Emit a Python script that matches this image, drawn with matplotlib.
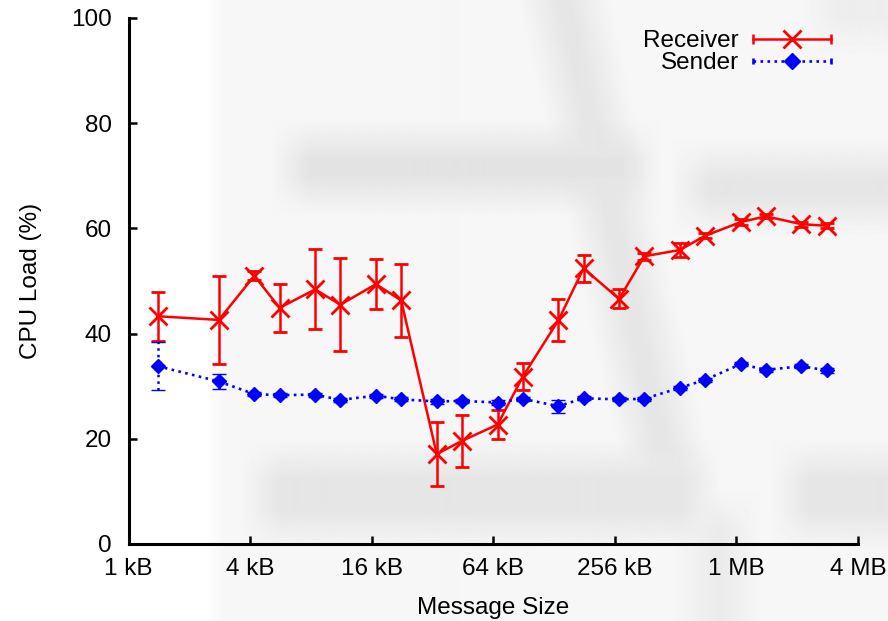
import numpy as np
import matplotlib
matplotlib.use("Agg")
import matplotlib.pyplot as plt
from matplotlib.lines import Line2D
from matplotlib.legend_handler import HandlerBase
from matplotlib.ticker import FixedLocator, FixedFormatter, NullLocator

plt.rcParams["font.family"] = ["Liberation Sans", "DejaVu Sans"]
plt.rcParams["font.size"] = 17.5

# message sizes in kB (multiples of a 1.4 kB segment)
sizes_kb = [1.4, 2.8, 4.2, 5.6, 8.4, 11.2, 16.8, 22.4, 33.6, 44.8, 67.2, 89.6,
            134.4, 179.2, 268.8, 358.4, 537.6, 716.8, 1075.2, 1433.6, 2150.4, 2867.2]

receiver_load = [43.3, 42.6, 51.0, 44.9, 48.4, 45.5, 49.4, 46.3, 17.1, 19.6, 22.7, 31.8,
                 42.5, 52.4, 46.6, 54.7, 55.9, 58.6, 61.2, 62.3, 60.8, 60.5]
receiver_err = [4.7, 8.4, 0.9, 4.6, 7.6, 8.8, 4.8, 7.0, 6.0, 4.9, 2.8, 2.6,
                4.0, 2.5, 1.8, 0.7, 1.4, 0.5, 0.5, 0.4, 0.5, 0.5]

sender_load = [33.8, 30.9, 28.5, 28.3, 28.4, 27.4, 28.2, 27.5, 27.1, 27.2, 26.9, 27.6,
               26.2, 27.7, 27.5, 27.6, 29.7, 31.2, 34.2, 33.1, 33.8, 33.0]
sender_err = [4.6, 1.4, 0.4, 0.4, 0.4, 0.4, 0.4, 0.4, 0.4, 0.4, 0.4, 0.4,
              1.2, 0.4, 0.4, 0.4, 0.4, 0.4, 0.4, 0.4, 0.4, 0.4]

tick_kb = [1, 4, 16, 64, 256, 1024, 4096]
tick_labels = ["1 kB", "4 kB", "16 kB", "64 kB", "256 kB", "1 MB", "4 MB"]
y_ticks = [0, 20, 40, 60, 80, 100]


class ErrHandler(HandlerBase):
    """gnuplot-style key entry: line with end caps and a centred point"""

    def __init__(self, ms, mew, capsize):
        super().__init__()
        self.ms, self.mew, self.capsize = ms, mew, capsize

    def create_artists(self, legend, orig_handle, xdescent, ydescent,
                       width, height, fontsize, trans):
        y = height / 2 - ydescent
        x0, x1 = -xdescent, width - xdescent
        c = orig_handle.get_color()
        lw = orig_handle.get_linewidth()
        line = Line2D([x0, x1], [y, y], color=c, lw=lw, ls=orig_handle.get_linestyle())
        caps = Line2D([x0, x1], [y, y], color=c, ls="none", marker="|",
                      ms=self.capsize, mew=lw)
        mark = Line2D([(x0 + x1) / 2], [y], color=c, ls="none",
                      marker=orig_handle.get_marker(), ms=self.ms, mew=self.mew)
        for a in (line, caps, mark):
            a.set_transform(trans)
        return [line, caps, mark]


def band(xx, yy, x0, x1, y0, y1, soft):
    mx = np.clip((xx - x0) / soft + 0.5, 0, 1) * np.clip((x1 - xx) / soft + 0.5, 0, 1)
    my = np.clip((yy - y0) / soft + 0.5, 0, 1) * np.clip((y1 - yy) / soft + 0.5, 0, 1)
    return mx * my


fig = plt.figure(figsize=(8.88, 6.21), dpi=100)

# faint grey backdrop
H, W = 621, 888
yy, xx = np.mgrid[0:H, 0:W].astype(float)
bg = np.full((H, W), 0.965)
bg = bg + (1.0 - bg) * band(xx, yy, -200, 215, -200, 900, 20)
for x0, x1, y0, y1, lev in [(290, 640, 140, 195, 0.89), (690, 950, 160, 215, 0.90),
                            (260, 700, 460, 530, 0.90), (790, 950, 460, 530, 0.90),
                            (695, 740, 510, 700, 0.92), (820, 950, -50, 35, 0.93)]:
    m = band(xx, yy, x0, x1, y0, y1, 40)
    bg = np.minimum(bg, bg * (1 - m) + lev * m)
slant = band(xx - 0.22 * yy, yy, 538, 588, -100, 470, 40)
bg = np.minimum(bg, bg * (1 - slant) + 0.90 * slant)

bg_ax = fig.add_axes([0, 0, 1, 1], zorder=0)
bg_ax.imshow(bg, cmap="gray", vmin=0, vmax=1, extent=[0, W, H, 0], aspect="auto",
             interpolation="bilinear")
bg_ax.axis("off")

ax = fig.add_axes([128.5 / 888, 1 - 544 / 621, (858 - 128.5) / 888, (544 - 18) / 621], zorder=1)
ax.patch.set_alpha(0)

rx = ax.errorbar(sizes_kb, receiver_load, yerr=receiver_err, color="#ff0000", lw=1.8,
                 marker="x", ms=13, mew=2, capsize=5, capthick=1.8, elinewidth=1.8,
                 label="Receiver", zorder=3)
tx = ax.errorbar(sizes_kb, sender_load, yerr=sender_err, color="#0000ff", lw=1.9, ls=":",
                 marker="D", ms=7.5, mew=1, capsize=5, capthick=1.8, elinewidth=1.8,
                 label="Sender", zorder=3)
for coll in tx[2]:
    coll.set_linestyle(":")

ax.set_xscale("log", base=2)
ax.set_xlim(1, 4096)
ax.set_ylim(0, 100)
ax.xaxis.set_major_locator(FixedLocator(tick_kb))
ax.xaxis.set_major_formatter(FixedFormatter(tick_labels))
ax.xaxis.set_minor_locator(NullLocator())
ax.set_yticks(y_ticks)

for side in ("top", "right"):
    ax.spines[side].set_visible(False)
for side in ("left", "bottom"):
    ax.spines[side].set_linewidth(2.2)
ax.tick_params(direction="in", length=6, width=1.8, pad=10)
ax.tick_params(axis="y", pad=12)

ax.set_xlabel("Message Size", labelpad=12)
ax.set_ylabel("CPU Load (%)", labelpad=21)

leg = ax.legend([rx[0], tx[0]], ["Receiver", "Sender"],
                handler_map={rx[0]: ErrHandler(13, 2, 7), tx[0]: ErrHandler(8, 1, 5)},
                loc="upper right", bbox_to_anchor=(831 / 888, 1 - 30 / 621),
                bbox_transform=fig.transFigure, frameon=False, markerfirst=False,
                handlelength=3.2, handletextpad=0.6, labelspacing=0.0, borderpad=0,
                borderaxespad=0, fontsize=17.5)

fig.savefig("out.png", dpi=100)
